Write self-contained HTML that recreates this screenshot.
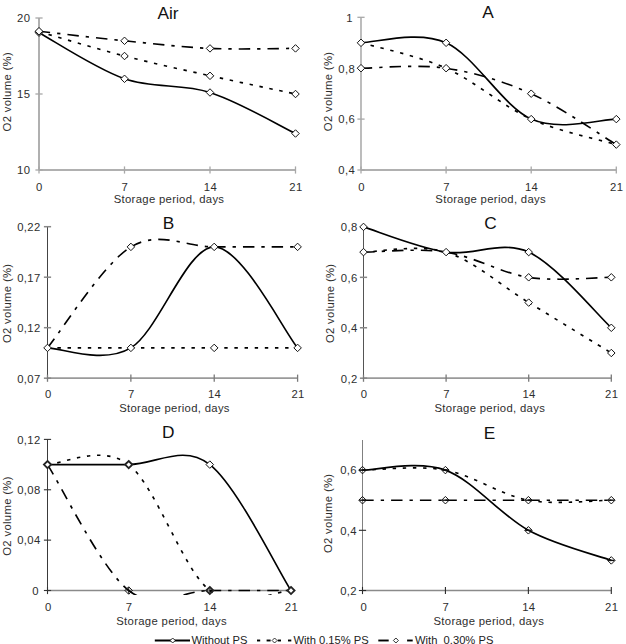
<!DOCTYPE html>
<html><head><meta charset="utf-8"><style>
html,body{margin:0;padding:0;background:#fff;width:626px;height:644px;overflow:hidden}
.t{font-family:"Liberation Sans",sans-serif;font-size:11.3px;letter-spacing:0.32px;fill:#2e2e2e}
.ti{font-family:"Liberation Sans",sans-serif;font-size:17.3px;fill:#111}
.lg{font-family:"Liberation Sans",sans-serif;font-size:11.2px;fill:#222}
</style></head><body>
<svg width="626" height="644" viewBox="0 0 626 644" style="display:block"><defs><clipPath id="clip4"><rect x="0" y="430" width="313" height="165"/></clipPath></defs><rect width="626" height="644" fill="#fff"/><g><line x1="39" y1="18" x2="39" y2="170" stroke="#b0b0b0" stroke-width="2"/><line x1="39" y1="170" x2="295.5" y2="170" stroke="#b0b0b0" stroke-width="2"/><line x1="35.4" y1="18.00" x2="42.6" y2="18.00" stroke="#a8a8a8" stroke-width="1.3"/><text x="30.3" y="22.30" text-anchor="end" class="t">20</text><line x1="35.4" y1="94.00" x2="42.6" y2="94.00" stroke="#a8a8a8" stroke-width="1.3"/><text x="30.3" y="98.30" text-anchor="end" class="t">15</text><line x1="35.4" y1="170.00" x2="42.6" y2="170.00" stroke="#a8a8a8" stroke-width="1.3"/><text x="30.3" y="174.30" text-anchor="end" class="t">10</text><line x1="39.00" y1="166.4" x2="39.00" y2="173.6" stroke="#a8a8a8" stroke-width="1.3"/><text x="39.30" y="190.7" text-anchor="middle" class="t">0</text><line x1="124.50" y1="166.4" x2="124.50" y2="173.6" stroke="#a8a8a8" stroke-width="1.3"/><text x="124.90" y="190.7" text-anchor="middle" class="t">7</text><line x1="210.00" y1="166.4" x2="210.00" y2="173.6" stroke="#a8a8a8" stroke-width="1.3"/><text x="210.40" y="190.7" text-anchor="middle" class="t">14</text><line x1="295.50" y1="166.4" x2="295.50" y2="173.6" stroke="#a8a8a8" stroke-width="1.3"/><text x="295.90" y="190.7" text-anchor="middle" class="t">21</text><text x="168" y="18.90" text-anchor="middle" class="ti">Air</text><text x="169" y="203.3" text-anchor="middle" class="t">Storage period, days</text><text transform="translate(11.2,91.7) rotate(-90)" x="0" y="0" text-anchor="middle" class="t">O2 volume (%)</text><path d="M39.00,32.74 C53.25,40.42 96.00,68.84 124.50,78.80 C153.00,88.76 181.50,83.36 210.00,92.48 C238.50,101.60 281.25,126.68 295.50,133.52" fill="none" stroke="#000" stroke-width="1.65"/><path d="M39.00,31.68 C53.25,35.73 96.00,48.65 124.50,56.00" fill="none" stroke="#000" stroke-width="1.65" stroke-dasharray="3.4 6.7"/><path d="M124.50,56.00 C153.00,63.35 181.50,69.43 210.00,75.76" fill="none" stroke="#000" stroke-width="1.65" stroke-dasharray="3.4 6.7"/><path d="M210.00,75.76 C238.50,82.09 281.25,90.96 295.50,94.00" fill="none" stroke="#000" stroke-width="1.65" stroke-dasharray="3.4 6.7"/><path d="M39.00,31.22 C53.25,32.82 96.00,37.94 124.50,40.80" fill="none" stroke="#000" stroke-width="1.65" stroke-dasharray="11.4 7 3.3 7"/><path d="M124.50,40.80 C153.00,43.66 181.50,47.13 210.00,48.40" fill="none" stroke="#000" stroke-width="1.65" stroke-dasharray="11.4 7 3.3 7"/><path d="M210.00,48.40 C238.50,49.67 281.25,48.40 295.50,48.40" fill="none" stroke="#000" stroke-width="1.65" stroke-dasharray="11.4 7 3.3 7"/><path d="M39.00,28.95 L42.75,32.70 L39.00,36.45 L35.25,32.70 Z" fill="#fff" stroke="#111" stroke-width="1.0"/><path d="M124.50,75.05 L128.25,78.80 L124.50,82.55 L120.75,78.80 Z" fill="#fff" stroke="#111" stroke-width="1.0"/><path d="M210.00,88.75 L213.75,92.50 L210.00,96.25 L206.25,92.50 Z" fill="#fff" stroke="#111" stroke-width="1.0"/><path d="M295.50,129.75 L299.25,133.50 L295.50,137.25 L291.75,133.50 Z" fill="#fff" stroke="#111" stroke-width="1.0"/><path d="M39.00,27.95 L42.75,31.70 L39.00,35.45 L35.25,31.70 Z" fill="#fff" stroke="#111" stroke-width="1.0"/><path d="M124.50,52.25 L128.25,56.00 L124.50,59.75 L120.75,56.00 Z" fill="#fff" stroke="#111" stroke-width="1.0"/><path d="M210.00,72.05 L213.75,75.80 L210.00,79.55 L206.25,75.80 Z" fill="#fff" stroke="#111" stroke-width="1.0"/><path d="M295.50,90.25 L299.25,94.00 L295.50,97.75 L291.75,94.00 Z" fill="#fff" stroke="#111" stroke-width="1.0"/><path d="M39.00,27.45 L42.75,31.20 L39.00,34.95 L35.25,31.20 Z" fill="#fff" stroke="#111" stroke-width="1.0"/><path d="M124.50,37.05 L128.25,40.80 L124.50,44.55 L120.75,40.80 Z" fill="#fff" stroke="#111" stroke-width="1.0"/><path d="M210.00,44.65 L213.75,48.40 L210.00,52.15 L206.25,48.40 Z" fill="#fff" stroke="#111" stroke-width="1.0"/><path d="M295.50,44.65 L299.25,48.40 L295.50,52.15 L291.75,48.40 Z" fill="#fff" stroke="#111" stroke-width="1.0"/></g><g><line x1="361" y1="17.3" x2="361" y2="170" stroke="#acacac" stroke-width="1.6"/><line x1="361" y1="170" x2="616.3" y2="170" stroke="#b0b0b0" stroke-width="2"/><line x1="357.4" y1="17.30" x2="364.6" y2="17.30" stroke="#a8a8a8" stroke-width="1.3"/><text x="352.8" y="21.60" text-anchor="end" class="t">1</text><line x1="357.4" y1="68.20" x2="364.6" y2="68.20" stroke="#a8a8a8" stroke-width="1.3"/><text x="355" y="72.50" text-anchor="end" class="t">0,8</text><line x1="357.4" y1="119.10" x2="364.6" y2="119.10" stroke="#a8a8a8" stroke-width="1.3"/><text x="355" y="123.40" text-anchor="end" class="t">0,6</text><line x1="357.4" y1="170.00" x2="364.6" y2="170.00" stroke="#a8a8a8" stroke-width="1.3"/><text x="355" y="174.30" text-anchor="end" class="t">0,4</text><line x1="361.00" y1="166.4" x2="361.00" y2="173.6" stroke="#a8a8a8" stroke-width="1.3"/><text x="361.50" y="190.7" text-anchor="middle" class="t">0</text><line x1="446.10" y1="166.4" x2="446.10" y2="173.6" stroke="#a8a8a8" stroke-width="1.3"/><text x="446.50" y="190.7" text-anchor="middle" class="t">7</text><line x1="531.20" y1="166.4" x2="531.20" y2="173.6" stroke="#a8a8a8" stroke-width="1.3"/><text x="531.60" y="190.7" text-anchor="middle" class="t">14</text><line x1="616.30" y1="166.4" x2="616.30" y2="173.6" stroke="#a8a8a8" stroke-width="1.3"/><text x="616.70" y="190.7" text-anchor="middle" class="t">21</text><text x="488" y="17.90" text-anchor="middle" class="ti">A</text><text x="490.7" y="203.3" text-anchor="middle" class="t">Storage period, days</text><text transform="translate(332,91.4) rotate(-90)" x="0" y="0" text-anchor="middle" class="t">O2 volume (%)</text><path d="M361.00,42.75 C375.18,42.75 417.73,30.02 446.10,42.75 C474.47,55.48 502.83,106.38 531.20,119.10 C559.57,131.83 602.12,119.10 616.30,119.10" fill="none" stroke="#000" stroke-width="1.65"/><path d="M361.00,42.75 C375.18,46.99 417.73,55.48 446.10,68.20" fill="none" stroke="#000" stroke-width="1.65" stroke-dasharray="3.4 6.7"/><path d="M446.10,68.20 C474.47,80.93 502.83,106.38 531.20,119.10" fill="none" stroke="#000" stroke-width="1.65" stroke-dasharray="3.4 6.7"/><path d="M531.20,119.10 C559.57,131.83 602.12,140.31 616.30,144.55" fill="none" stroke="#000" stroke-width="1.65" stroke-dasharray="3.4 6.7"/><path d="M361.00,68.20 C375.18,68.20 417.73,63.96 446.10,68.20" fill="none" stroke="#000" stroke-width="1.65" stroke-dasharray="11.4 7 3.3 7"/><path d="M446.10,68.20 C474.47,72.44 502.83,80.93 531.20,93.65" fill="none" stroke="#000" stroke-width="1.65" stroke-dasharray="11.4 7 3.3 7"/><path d="M531.20,93.65 C559.57,106.38 602.12,136.07 616.30,144.55" fill="none" stroke="#000" stroke-width="1.65" stroke-dasharray="11.4 7 3.3 7"/><path d="M361.00,39.05 L364.75,42.80 L361.00,46.55 L357.25,42.80 Z" fill="#fff" stroke="#111" stroke-width="1.0"/><path d="M446.10,39.05 L449.85,42.80 L446.10,46.55 L442.35,42.80 Z" fill="#fff" stroke="#111" stroke-width="1.0"/><path d="M531.20,115.35 L534.95,119.10 L531.20,122.85 L527.45,119.10 Z" fill="#fff" stroke="#111" stroke-width="1.0"/><path d="M616.30,115.35 L620.05,119.10 L616.30,122.85 L612.55,119.10 Z" fill="#fff" stroke="#111" stroke-width="1.0"/><path d="M446.10,64.45 L449.85,68.20 L446.10,71.95 L442.35,68.20 Z" fill="#fff" stroke="#111" stroke-width="1.0"/><path d="M616.30,140.85 L620.05,144.60 L616.30,148.35 L612.55,144.60 Z" fill="#fff" stroke="#111" stroke-width="1.0"/><path d="M361.00,64.45 L364.75,68.20 L361.00,71.95 L357.25,68.20 Z" fill="#fff" stroke="#111" stroke-width="1.0"/><path d="M531.20,89.95 L534.95,93.70 L531.20,97.45 L527.45,93.70 Z" fill="#fff" stroke="#111" stroke-width="1.0"/></g><g><line x1="47.5" y1="226.7" x2="47.5" y2="378.2" stroke="#444" stroke-width="1"/><line x1="47.5" y1="378.2" x2="297.6" y2="378.2" stroke="#9a9a9a" stroke-width="1.8"/><line x1="43.9" y1="226.70" x2="51.1" y2="226.70" stroke="#888" stroke-width="1.5"/><text x="40.5" y="231.00" text-anchor="end" class="t">0,22</text><line x1="43.9" y1="277.20" x2="51.1" y2="277.20" stroke="#888" stroke-width="1.5"/><text x="40.5" y="281.50" text-anchor="end" class="t">0,17</text><line x1="43.9" y1="327.70" x2="51.1" y2="327.70" stroke="#888" stroke-width="1.5"/><text x="40.5" y="332.00" text-anchor="end" class="t">0,12</text><line x1="43.9" y1="378.20" x2="51.1" y2="378.20" stroke="#888" stroke-width="1.5"/><text x="40.5" y="382.50" text-anchor="end" class="t">0,07</text><line x1="47.50" y1="374.59999999999997" x2="47.50" y2="381.8" stroke="#7a7a7a" stroke-width="1.3"/><text x="48.30" y="398.2" text-anchor="middle" class="t">0</text><line x1="130.87" y1="374.59999999999997" x2="130.87" y2="381.8" stroke="#7a7a7a" stroke-width="1.3"/><text x="131.27" y="398.2" text-anchor="middle" class="t">7</text><line x1="214.23" y1="374.59999999999997" x2="214.23" y2="381.8" stroke="#7a7a7a" stroke-width="1.3"/><text x="214.63" y="398.2" text-anchor="middle" class="t">14</text><line x1="297.60" y1="374.59999999999997" x2="297.60" y2="381.8" stroke="#7a7a7a" stroke-width="1.3"/><text x="298.00" y="398.2" text-anchor="middle" class="t">21</text><text x="168.5" y="229.20" text-anchor="middle" class="ti">B</text><text x="174.5" y="411.8" text-anchor="middle" class="t">Storage period, days</text><text transform="translate(10.9,303.3) rotate(-90)" x="0" y="0" text-anchor="middle" class="t">O2 volume (%)</text><path d="M47.50,347.90 C61.39,347.90 103.08,364.73 130.87,347.90 C158.66,331.07 186.44,246.90 214.23,246.90 C242.02,246.90 283.71,331.07 297.60,347.90" fill="none" stroke="#000" stroke-width="1.65"/><path d="M47.50,347.90 C61.39,347.90 103.08,347.90 130.87,347.90" fill="none" stroke="#000" stroke-width="1.65" stroke-dasharray="3.4 6.7"/><path d="M130.87,347.90 C158.66,347.90 186.44,347.90 214.23,347.90" fill="none" stroke="#000" stroke-width="1.65" stroke-dasharray="3.4 6.7"/><path d="M214.23,347.90 C242.02,347.90 283.71,347.90 297.60,347.90" fill="none" stroke="#000" stroke-width="1.65" stroke-dasharray="3.4 6.7"/><path d="M47.50,347.90 C61.39,331.07 103.08,263.73 130.87,246.90" fill="none" stroke="#000" stroke-width="1.65" stroke-dasharray="11.4 7 3.3 7"/><path d="M130.87,246.90 C158.66,230.07 186.44,246.90 214.23,246.90" fill="none" stroke="#000" stroke-width="1.65" stroke-dasharray="11.4 7 3.3 7"/><path d="M214.23,246.90 C242.02,246.90 283.71,246.90 297.60,246.90" fill="none" stroke="#000" stroke-width="1.65" stroke-dasharray="11.4 7 3.3 7"/><path d="M47.50,344.15 L51.25,347.90 L47.50,351.65 L43.75,347.90 Z" fill="#fff" stroke="#111" stroke-width="1.0"/><path d="M130.90,344.15 L134.65,347.90 L130.90,351.65 L127.15,347.90 Z" fill="#fff" stroke="#111" stroke-width="1.0"/><path d="M214.20,243.15 L217.95,246.90 L214.20,250.65 L210.45,246.90 Z" fill="#fff" stroke="#111" stroke-width="1.0"/><path d="M297.60,344.15 L301.35,347.90 L297.60,351.65 L293.85,347.90 Z" fill="#fff" stroke="#111" stroke-width="1.0"/><path d="M214.20,344.15 L217.95,347.90 L214.20,351.65 L210.45,347.90 Z" fill="#fff" stroke="#111" stroke-width="1.0"/><path d="M130.90,243.15 L134.65,246.90 L130.90,250.65 L127.15,246.90 Z" fill="#fff" stroke="#111" stroke-width="1.0"/><path d="M297.60,243.15 L301.35,246.90 L297.60,250.65 L293.85,246.90 Z" fill="#fff" stroke="#111" stroke-width="1.0"/></g><g><line x1="363.5" y1="226.9" x2="363.5" y2="378.2" stroke="#555" stroke-width="1"/><line x1="363.5" y1="378.2" x2="611.3" y2="378.2" stroke="#9a9a9a" stroke-width="1.8"/><line x1="359.9" y1="226.90" x2="367.1" y2="226.90" stroke="#888" stroke-width="1.5"/><text x="357.5" y="231.20" text-anchor="end" class="t">0,8</text><line x1="359.9" y1="277.33" x2="367.1" y2="277.33" stroke="#888" stroke-width="1.5"/><text x="357.5" y="281.63" text-anchor="end" class="t">0,6</text><line x1="359.9" y1="327.77" x2="367.1" y2="327.77" stroke="#888" stroke-width="1.5"/><text x="357.5" y="332.07" text-anchor="end" class="t">0,4</text><line x1="359.9" y1="378.20" x2="367.1" y2="378.20" stroke="#888" stroke-width="1.5"/><text x="357.5" y="382.50" text-anchor="end" class="t">0,2</text><line x1="363.50" y1="374.59999999999997" x2="363.50" y2="381.8" stroke="#7a7a7a" stroke-width="1.3"/><text x="364.00" y="398.2" text-anchor="middle" class="t">0</text><line x1="446.10" y1="374.59999999999997" x2="446.10" y2="381.8" stroke="#7a7a7a" stroke-width="1.3"/><text x="446.50" y="398.2" text-anchor="middle" class="t">7</text><line x1="528.70" y1="374.59999999999997" x2="528.70" y2="381.8" stroke="#7a7a7a" stroke-width="1.3"/><text x="529.10" y="398.2" text-anchor="middle" class="t">14</text><line x1="611.30" y1="374.59999999999997" x2="611.30" y2="381.8" stroke="#7a7a7a" stroke-width="1.3"/><text x="611.70" y="398.2" text-anchor="middle" class="t">21</text><text x="490.6" y="229.40" text-anchor="middle" class="ti">C</text><text x="489.8" y="411.8" text-anchor="middle" class="t">Storage period, days</text><text transform="translate(334,303.3) rotate(-90)" x="0" y="0" text-anchor="middle" class="t">O2 volume (%)</text><path d="M363.50,226.90 C377.27,231.10 418.57,247.91 446.10,252.12 C473.63,256.32 501.17,239.51 528.70,252.12 C556.23,264.73 597.53,315.16 611.30,327.77" fill="none" stroke="#000" stroke-width="1.65"/><path d="M363.50,252.12 C377.27,252.12 418.57,243.71 446.10,252.12" fill="none" stroke="#000" stroke-width="1.65" stroke-dasharray="3.4 6.7"/><path d="M446.10,252.12 C473.63,260.52 501.17,285.74 528.70,302.55" fill="none" stroke="#000" stroke-width="1.65" stroke-dasharray="3.4 6.7"/><path d="M528.70,302.55 C556.23,319.36 597.53,344.58 611.30,352.98" fill="none" stroke="#000" stroke-width="1.65" stroke-dasharray="3.4 6.7"/><path d="M363.50,252.12 C377.27,252.12 418.57,247.91 446.10,252.12" fill="none" stroke="#000" stroke-width="1.65" stroke-dasharray="11.4 7 3.3 7"/><path d="M446.10,252.12 C473.63,256.32 501.17,273.13 528.70,277.33" fill="none" stroke="#000" stroke-width="1.65" stroke-dasharray="11.4 7 3.3 7"/><path d="M528.70,277.33 C556.23,281.54 597.53,277.33 611.30,277.33" fill="none" stroke="#000" stroke-width="1.65" stroke-dasharray="11.4 7 3.3 7"/><path d="M363.50,223.15 L367.25,226.90 L363.50,230.65 L359.75,226.90 Z" fill="#fff" stroke="#111" stroke-width="1.0"/><path d="M446.10,248.35 L449.85,252.10 L446.10,255.85 L442.35,252.10 Z" fill="#fff" stroke="#111" stroke-width="1.0"/><path d="M528.70,248.35 L532.45,252.10 L528.70,255.85 L524.95,252.10 Z" fill="#fff" stroke="#111" stroke-width="1.0"/><path d="M611.30,324.05 L615.05,327.80 L611.30,331.55 L607.55,327.80 Z" fill="#fff" stroke="#111" stroke-width="1.0"/><path d="M363.50,248.35 L367.25,252.10 L363.50,255.85 L359.75,252.10 Z" fill="#fff" stroke="#111" stroke-width="1.0"/><path d="M528.70,298.85 L532.45,302.60 L528.70,306.35 L524.95,302.60 Z" fill="#fff" stroke="#111" stroke-width="1.0"/><path d="M611.30,349.25 L615.05,353.00 L611.30,356.75 L607.55,353.00 Z" fill="#fff" stroke="#111" stroke-width="1.0"/><path d="M528.70,273.55 L532.45,277.30 L528.70,281.05 L524.95,277.30 Z" fill="#fff" stroke="#111" stroke-width="1.0"/><path d="M611.30,273.55 L615.05,277.30 L611.30,281.05 L607.55,277.30 Z" fill="#fff" stroke="#111" stroke-width="1.0"/></g><g><line x1="47.5" y1="439.4" x2="47.5" y2="590.5" stroke="#3a3a3a" stroke-width="1"/><line x1="47.5" y1="590.5" x2="291" y2="590.5" stroke="#8a8a8a" stroke-width="1.5"/><line x1="43.9" y1="439.40" x2="51.1" y2="439.40" stroke="#333" stroke-width="1.1"/><text x="40.5" y="443.70" text-anchor="end" class="t">0,12</text><line x1="43.9" y1="489.77" x2="51.1" y2="489.77" stroke="#333" stroke-width="1.1"/><text x="40.5" y="494.07" text-anchor="end" class="t">0,08</text><line x1="43.9" y1="540.13" x2="51.1" y2="540.13" stroke="#333" stroke-width="1.1"/><text x="40.5" y="544.43" text-anchor="end" class="t">0,04</text><line x1="43.9" y1="590.50" x2="51.1" y2="590.50" stroke="#333" stroke-width="1.1"/><text x="38.8" y="594.80" text-anchor="end" class="t">0</text><line x1="47.50" y1="586.9" x2="47.50" y2="594.1" stroke="#333" stroke-width="1.1"/><text x="48.30" y="610.9" text-anchor="middle" class="t">0</text><line x1="128.67" y1="586.9" x2="128.67" y2="594.1" stroke="#333" stroke-width="1.1"/><text x="129.07" y="610.9" text-anchor="middle" class="t">7</text><line x1="209.83" y1="586.9" x2="209.83" y2="594.1" stroke="#333" stroke-width="1.1"/><text x="210.23" y="610.9" text-anchor="middle" class="t">14</text><line x1="291.00" y1="586.9" x2="291.00" y2="594.1" stroke="#333" stroke-width="1.1"/><text x="291.40" y="610.9" text-anchor="middle" class="t">21</text><text x="168.2" y="438.10" text-anchor="middle" class="ti">D</text><text x="171.6" y="624.5" text-anchor="middle" class="t">Storage period, days</text><text transform="translate(11.3,516) rotate(-90)" x="0" y="0" text-anchor="middle" class="t">O2 volume (%)</text><path d="M47.50,464.58 C61.03,464.58 101.61,464.58 128.67,464.58 C155.72,464.58 182.78,443.60 209.83,464.58 C236.89,485.57 277.47,569.51 291.00,590.50" fill="none" stroke="#000" stroke-width="1.65" clip-path="url(#clip4)"/><path d="M47.50,464.58 C61.03,464.58 101.61,443.60 128.67,464.58" fill="none" stroke="#000" stroke-width="1.65" stroke-dasharray="3.4 6.7" clip-path="url(#clip4)"/><path d="M128.67,464.58 C155.72,485.57 182.78,569.51 209.83,590.50" fill="none" stroke="#000" stroke-width="1.65" stroke-dasharray="3.4 6.7" clip-path="url(#clip4)"/><path d="M209.83,590.50 C236.89,611.49 277.47,590.50 291.00,590.50" fill="none" stroke="#000" stroke-width="1.65" stroke-dasharray="3.4 6.7" clip-path="url(#clip4)"/><path d="M47.50,464.58 C61.03,485.57 101.61,569.51 128.67,590.50" fill="none" stroke="#000" stroke-width="1.65" stroke-dasharray="11.4 7 3.3 7" clip-path="url(#clip4)"/><path d="M128.67,590.50 C155.72,611.49 182.78,590.50 209.83,590.50" fill="none" stroke="#000" stroke-width="1.65" stroke-dasharray="11.4 7 3.3 7" clip-path="url(#clip4)"/><path d="M209.83,590.50 C236.89,590.50 277.47,590.50 291.00,590.50" fill="none" stroke="#000" stroke-width="1.65" stroke-dasharray="11.4 7 3.3 7" clip-path="url(#clip4)"/><path d="M47.50,461.00 L51.10,464.60 L47.50,468.20 L43.90,464.60 Z" fill="#fff" stroke="#222" stroke-width="1.8"/><path d="M128.70,461.00 L132.30,464.60 L128.70,468.20 L125.10,464.60 Z" fill="#fff" stroke="#222" stroke-width="1.8"/><path d="M209.80,460.85 L213.55,464.60 L209.80,468.35 L206.05,464.60 Z" fill="#fff" stroke="#111" stroke-width="1.0"/><path d="M291.00,586.90 L294.60,590.50 L291.00,594.10 L287.40,590.50 Z" fill="#fff" stroke="#222" stroke-width="1.8"/><path d="M209.80,586.90 L213.40,590.50 L209.80,594.10 L206.20,590.50 Z" fill="none" stroke="#222" stroke-width="1.8"/><path d="M128.70,586.75 L132.45,590.50 L128.70,594.25 L124.95,590.50 Z" fill="none" stroke="#111" stroke-width="1.0"/></g><g><line x1="362.5" y1="440" x2="362.5" y2="590.5" stroke="#808080" stroke-width="1"/><line x1="362.5" y1="590.5" x2="611.3" y2="590.5" stroke="#8a8a8a" stroke-width="1.5"/><line x1="358.9" y1="470.10" x2="366.1" y2="470.10" stroke="#2a2a2a" stroke-width="1.1"/><text x="356.8" y="474.40" text-anchor="end" class="t">0,6</text><line x1="358.9" y1="530.30" x2="366.1" y2="530.30" stroke="#2a2a2a" stroke-width="1.1"/><text x="356.8" y="534.60" text-anchor="end" class="t">0,4</text><line x1="358.9" y1="590.50" x2="366.1" y2="590.50" stroke="#2a2a2a" stroke-width="1.1"/><text x="356.8" y="594.80" text-anchor="end" class="t">0,2</text><line x1="362.50" y1="586.9" x2="362.50" y2="594.1" stroke="#2a2a2a" stroke-width="1.1"/><text x="363.70" y="611.1" text-anchor="middle" class="t">0</text><line x1="445.43" y1="586.9" x2="445.43" y2="594.1" stroke="#2a2a2a" stroke-width="1.1"/><text x="445.83" y="611.1" text-anchor="middle" class="t">7</text><line x1="528.37" y1="586.9" x2="528.37" y2="594.1" stroke="#2a2a2a" stroke-width="1.1"/><text x="528.77" y="611.1" text-anchor="middle" class="t">14</text><line x1="611.30" y1="586.9" x2="611.30" y2="594.1" stroke="#2a2a2a" stroke-width="1.1"/><text x="611.70" y="611.1" text-anchor="middle" class="t">21</text><text x="489.6" y="438.90" text-anchor="middle" class="ti">E</text><text x="488.8" y="624.5" text-anchor="middle" class="t">Storage period, days</text><text transform="translate(332.4,513.3) rotate(-90)" x="0" y="0" text-anchor="middle" class="t">O2 volume (%)</text><path d="M362.50,470.10 C376.32,470.10 417.79,460.07 445.43,470.10 C473.08,480.13 500.72,515.25 528.37,530.30 C556.01,545.35 597.48,555.38 611.30,560.40" fill="none" stroke="#000" stroke-width="1.65"/><path d="M362.50,470.10 C376.32,470.10 417.79,465.08 445.43,470.10" fill="none" stroke="#000" stroke-width="1.65" stroke-dasharray="3.4 6.7"/><path d="M445.43,470.10 C473.08,475.12 500.72,495.18 528.37,500.20" fill="none" stroke="#000" stroke-width="1.65" stroke-dasharray="3.4 6.7"/><path d="M528.37,500.20 C556.01,505.22 597.48,500.20 611.30,500.20" fill="none" stroke="#000" stroke-width="1.65" stroke-dasharray="3.4 6.7"/><path d="M362.50,500.20 C376.32,500.20 417.79,500.20 445.43,500.20" fill="none" stroke="#000" stroke-width="1.65" stroke-dasharray="11.4 7 3.3 7"/><path d="M445.43,500.20 C473.08,500.20 500.72,500.20 528.37,500.20" fill="none" stroke="#000" stroke-width="1.65" stroke-dasharray="11.4 7 3.3 7"/><path d="M528.37,500.20 C556.01,500.20 597.48,500.20 611.30,500.20" fill="none" stroke="#000" stroke-width="1.65" stroke-dasharray="11.4 7 3.3 7"/><path d="M362.50,466.35 L366.25,470.10 L362.50,473.85 L358.75,470.10 Z" fill="none" stroke="#111" stroke-width="1.0"/><line x1="359.25" y1="470.10" x2="365.75" y2="470.10" stroke="#111" stroke-width="1.4"/><path d="M445.40,466.35 L449.15,470.10 L445.40,473.85 L441.65,470.10 Z" fill="none" stroke="#111" stroke-width="1.0"/><line x1="442.15" y1="470.10" x2="448.65" y2="470.10" stroke="#111" stroke-width="1.4"/><path d="M528.40,526.55 L532.15,530.30 L528.40,534.05 L524.65,530.30 Z" fill="none" stroke="#111" stroke-width="1.0"/><line x1="525.15" y1="530.30" x2="531.65" y2="530.30" stroke="#111" stroke-width="1.4"/><path d="M611.30,556.65 L615.05,560.40 L611.30,564.15 L607.55,560.40 Z" fill="none" stroke="#111" stroke-width="1.0"/><line x1="608.05" y1="560.40" x2="614.55" y2="560.40" stroke="#111" stroke-width="1.4"/><path d="M528.40,496.45 L532.15,500.20 L528.40,503.95 L524.65,500.20 Z" fill="none" stroke="#111" stroke-width="1.0"/><line x1="525.15" y1="500.20" x2="531.65" y2="500.20" stroke="#111" stroke-width="1.4"/><path d="M611.30,496.45 L615.05,500.20 L611.30,503.95 L607.55,500.20 Z" fill="none" stroke="#111" stroke-width="1.0"/><line x1="608.05" y1="500.20" x2="614.55" y2="500.20" stroke="#111" stroke-width="1.4"/><path d="M362.50,496.45 L366.25,500.20 L362.50,503.95 L358.75,500.20 Z" fill="none" stroke="#111" stroke-width="1.0"/><line x1="359.25" y1="500.20" x2="365.75" y2="500.20" stroke="#111" stroke-width="1.4"/><path d="M445.40,496.45 L449.15,500.20 L445.40,503.95 L441.65,500.20 Z" fill="none" stroke="#111" stroke-width="1.0"/><line x1="442.15" y1="500.20" x2="448.65" y2="500.20" stroke="#111" stroke-width="1.4"/></g><g><line x1="154.8" y1="640.5" x2="190" y2="640.5" stroke="#000" stroke-width="1.9"/><path d="M172.7,638.0 L175.2,640.5 L172.7,643.0 L170.2,640.5 Z" fill="#fff" stroke="#000" stroke-width="0.8"/><text x="191.5" y="644.3" class="lg">Without PS</text><line x1="257" y1="640.5" x2="260.2" y2="640.5" stroke="#000" stroke-width="1.9"/><line x1="266.6" y1="640.5" x2="270.6" y2="640.5" stroke="#000" stroke-width="1.9"/><line x1="277.7" y1="640.5" x2="281" y2="640.5" stroke="#000" stroke-width="1.9"/><line x1="288" y1="640.5" x2="291.3" y2="640.5" stroke="#000" stroke-width="1.9"/><path d="M274.6,638.0 L277.1,640.5 L274.6,643.0 L272.1,640.5 Z" fill="#fff" stroke="#000" stroke-width="0.8"/><text x="293.5" y="644.3" class="lg">With 0.15% PS</text><line x1="378.3" y1="640.5" x2="388.7" y2="640.5" stroke="#000" stroke-width="1.9"/><line x1="407.1" y1="640.5" x2="412.7" y2="640.5" stroke="#000" stroke-width="1.9"/><path d="M395.9,638.0 L398.4,640.5 L395.9,643.0 L393.4,640.5 Z" fill="#fff" stroke="#000" stroke-width="0.8"/><text x="415" y="644.3" class="lg">With&#160; 0.30% PS</text></g></svg>
</body></html>
